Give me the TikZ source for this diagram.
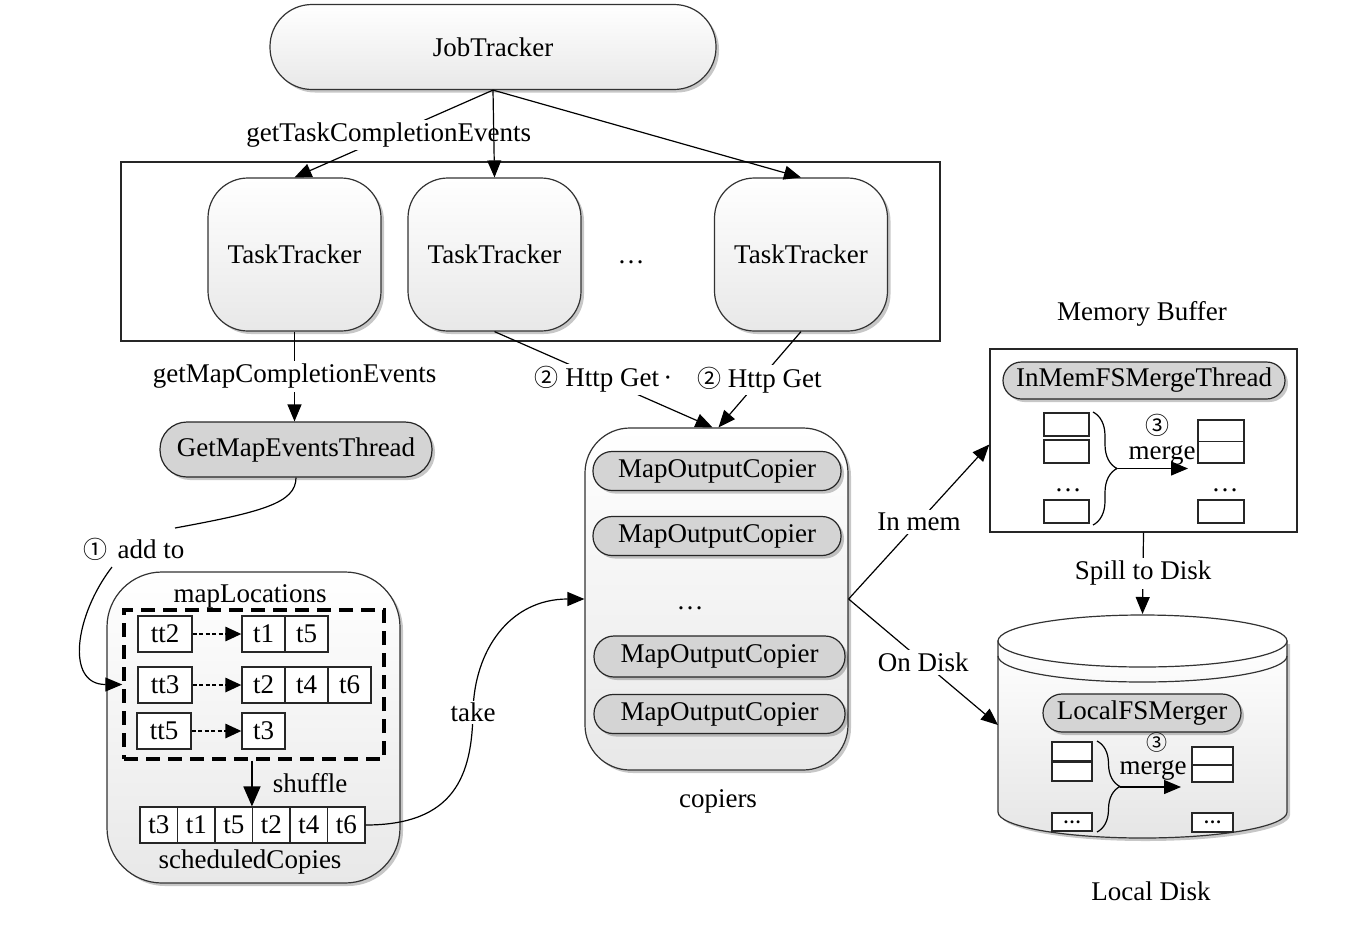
\documentclass[tikz,border=0pt]{standalone}
\usepackage{fontspec}
\setmainfont{Liberation Serif}
\newfontfamily\symfont{Noto Sans CJK SC}
\newcommand\cnum[1]{{\symfont\fontsize{24}{24}\selectfont #1}}
\newcommand\cnumsm[1]{{\symfont\fontsize{21}{21}\selectfont #1}}
\usetikzlibrary{arrows.meta,shadows,decorations.pathreplacing}
\begin{document}
\begin{tikzpicture}[x=1pt,y=-1pt,
  font=\fontsize{27}{31}\selectfont,
  line width=1.2pt,
  >={Triangle[length=17pt,width=14pt]},
  dshadow/.style={drop shadow={shadow xshift=3pt,shadow yshift=-3pt,opacity=0.22,fill=black}},
  softbox/.style={draw=black!80,top color=white,bottom color=black!9,inner sep=0pt,dshadow},
  pill/.style={draw=black!85,fill=black!17,inner sep=0pt,rounded corners=19pt,minimum width=248pt,minimum height=39pt,dshadow},
  cell/.style={draw=black!85,fill=white,inner sep=0pt,minimum height=36pt,line width=1.1pt},
  tcell/.style={cell,minimum width=43pt},
  ttcell/.style={cell,minimum width=54pt},
  scell/.style={cell,minimum width=37.5pt},
  mini/.style={draw=black!85,fill=white,inner sep=0pt,line width=1.1pt},
  lbl/.style={fill=white,inner sep=3pt},
  plain/.style={inner sep=0pt},
  dotarrow/.style={->,line width=2.6pt,dash pattern=on 4pt off 2.5pt,>={Triangle[length=16pt,width=14pt]}},
  bracestyle/.style={decorate,decoration={brace,amplitude=24pt,aspect=0.5}},
]
\useasboundingbox (0,0) rectangle (1351,940);

% ---------- JobTracker ----------
\node[softbox,rounded corners=42pt,minimum width=446pt,minimum height=85pt] (jt) at (493,47) {JobTracker};

% ---------- TaskTrackers ----------
\node[draw=black!85,fill=white,minimum width=819pt,minimum height=179pt,inner sep=0pt] (frame) at (530.5,251.5) {};
\node[softbox,rounded corners=40pt,minimum width=173pt,minimum height=153pt] (tt1) at (294.5,254.5) {TaskTracker};
\node[softbox,rounded corners=40pt,minimum width=173pt,minimum height=153pt] (tt2) at (494.5,254.5) {TaskTracker};
\node[plain] (ttdots) at (631,262) {…};
\node[softbox,rounded corners=40pt,minimum width=173pt,minimum height=153pt] (tt3) at (801,254.5) {TaskTracker};

\draw[->] (jt.south) -- (tt1.north) node[lbl,pos=0.49,xshift=-7pt,yshift=-2pt] {getTaskCompletionEvents};
\draw[->] (jt.south) -- (tt2.north);
\draw[->] (jt.south) -- (tt3.north);

% ---------- GetMapEventsThread ----------
\node[pill,rounded corners=27pt,minimum width=272pt,minimum height=55pt] (gme) at (296,449.5) {GetMapEventsThread};
\draw[->] (tt1.south) -- (tt1.south |- gme.north) node[lbl,pos=0.5] {getMapCompletionEvents};

% ---------- copiers ----------
\node[softbox,rounded corners=45pt,minimum width=263pt,minimum height=342pt] (cop) at (716.5,599) {};
\node[plain] (coplbl) at (718,801) {copiers};
\node[pill] (moc1) at (717,471) {MapOutputCopier};
\node[pill] (moc2) at (717,536) {MapOutputCopier};
\node[plain] (mocdots) at (690,608) {…};
\node[pill,minimum width=251pt,minimum height=41pt,rounded corners=20pt] (moc3) at (719.5,656.5) {MapOutputCopier};
\node[pill,minimum width=251pt] (moc4) at (719.5,714) {MapOutputCopier};

\draw[->] (tt2.south) -- ([xshift=-4pt]cop.north) node[lbl,pos=0.5,inner sep=2pt] {\cnum{②} Http Get\,·};
\draw[->] (tt3.south) -- ([xshift=2pt]cop.north) node[lbl,pos=0.505,inner sep=2pt] {\cnum{②} Http Get};

% ---------- Memory buffer ----------
\node[plain] (mblbl) at (1142,314) {Memory Buffer};
\node[draw=black!85,fill=white,minimum width=307pt,minimum height=183pt,inner sep=0pt,line width=1.4pt] (mb) at (1143.5,440.5) {};
\node[pill,minimum width=282pt,minimum height=37pt,rounded corners=18.5pt] (imt) at (1144,380.5) {InMemFSMergeThread};
\node[mini,minimum width=45pt,minimum height=23pt] (ma1) at (1066.5,424.5) {};
\node[mini,minimum width=45pt,minimum height=23pt] (ma2) at (1066.5,451.5) {};
\node[plain] (madots) at (1068,490) {…};
\node[mini,minimum width=45pt,minimum height=23pt] (ma3) at (1066.5,511.5) {};
\draw[bracestyle] (1093,412) -- (1093,525);
\node[mini,minimum width=46pt,minimum height=21.5pt] (mr1) at (1221,430.75) {};
\node[mini,minimum width=46pt,minimum height=21.5pt] (mr2) at (1221,452.25) {};
\node[plain] (mrdots) at (1225,490) {…};
\node[mini,minimum width=46pt,minimum height=23pt] (mr3) at (1221,511.5) {};
\coordinate (mbtip) at (1118,468.5);
\coordinate (mbend) at (1188,468.5);
\draw[->] (mbtip) -- (mbend);
\node[plain] (mc3) at (1157,425) {\cnum{③}};
\node[plain] (mmerge) at (1162,455) {merge};

% ---------- Local disk ----------
\coordinate (disktop) at (1142.5,614);
\coordinate (diskleft) at (998,725);
\path[dshadow,draw=black!80,top color=white,bottom color=black!10]
  (998,641) -- (998,812) arc[start angle=180,end angle=360,x radius=144.5pt,y radius=26pt] -- (1287,641) -- cycle;
\draw[draw=black!80,fill=white] (1142.5,641) ellipse[x radius=144.5pt,y radius=26pt];
\draw[draw=black!80] (998,656) arc[start angle=180,end angle=360,x radius=144.5pt,y radius=26pt];
\node[plain] (ldlbl) at (1151,891) {Local Disk};
\node[pill,minimum width=198pt,minimum height=38pt] (lfm) at (1142,713) {LocalFSMerger};
\node[mini,minimum width=40pt,minimum height=19pt] (dl1) at (1072,751.5) {};
\node[mini,minimum width=40pt,minimum height=19pt] (dl2) at (1072,771.5) {};
\node[mini,minimum width=40pt,minimum height=18pt,font=\fontsize{18}{18}\selectfont\bfseries] (dl3) at (1072,822) {…};
\draw[bracestyle,decoration={amplitude=23pt}] (1097,741) -- (1097,832);
\node[mini,minimum width=41pt,minimum height=18pt] (dr1) at (1212.5,756) {};
\node[mini,minimum width=41pt,minimum height=17pt] (dr2) at (1212.5,773.5) {};
\node[mini,minimum width=41pt,minimum height=19pt,font=\fontsize{18}{18}\selectfont\bfseries] (dr3) at (1212.5,822.5) {…};
\coordinate (dtip) at (1120,787);
\coordinate (dend) at (1181,787);
\draw[->] (dtip) -- (dend);
\node[plain] (dc3) at (1157,743) {\cnumsm{③}};
\node[plain] (dmerge) at (1153,770) {merge};

% ---------- copiers -> buffer / disk ----------
\draw[->] (cop.east) -- ([yshift=-4pt]mb.west) node[lbl,pos=0.5] {In mem};
\draw[->] (cop.east) -- (diskleft) node[lbl,pos=0.5] {On Disk};
\draw[->] (mb.south) -- (disktop) node[lbl,pos=0.5] {Spill to Disk};

% ---------- left container ----------
\node[softbox,rounded corners=55pt,minimum width=293pt,minimum height=311pt] (sc) at (253.5,727.5) {};
\node[draw=black,dash pattern=on 14pt off 8pt,line width=3.5pt,minimum width=260pt,minimum height=149pt,inner sep=0pt] (ml) at (254,684.5) {};
\node[plain] (mllbl) at (250,596) {mapLocations};
\node[ttcell] (k2) at (165,634) {tt2};
\node[tcell] (v11) at (263.5,634) {t1};
\node[tcell] (v12) at (306.5,634) {t5};
\node[ttcell] (k3) at (165,685) {tt3};
\node[tcell] (v21) at (263.5,685) {t2};
\node[tcell] (v22) at (306.5,685) {t4};
\node[tcell] (v23) at (349.5,685) {t6};
\node[ttcell] (k5) at (164,731) {tt5};
\node[tcell] (v31) at (263.5,731) {t3};
\draw[dotarrow] (k2.east) -- (v11.west);
\draw[dotarrow] (k3.east) -- (v21.west);
\draw[dotarrow] (k5.east) -- (v31.west);

\node[scell] (s1) at (158.75,825) {t3};
\node[scell] (s2) at (196.25,825) {t1};
\node[scell] (s3) at (233.75,825) {t5};
\node[scell] (s4) at (271.25,825) {t2};
\node[scell] (s5) at (308.75,825) {t4};
\node[scell] (s6) at (346.25,825) {t6};
\node[plain] (sclbl) at (250,862) {scheduledCopies};
\draw[->,line width=1.5pt,>={Triangle[length=20pt,width=17pt]}] (ml.south -| s4.west) -- (s4.north west);
\node[plain] (shuf) at (310,783) {shuffle};

% ---------- add to ----------
\node[plain] (addto) at (134,549) {\cnum{①}\hspace{10pt}add to};
\coordinate (addin) at (175,528);
\coordinate (addout) at (112,567);
\draw (gme.south) .. controls (296,503) and (262,512) .. (addin);
\draw[->] (addout) .. controls (75,615) and (65,684.5) .. (ml.west);

% ---------- take ----------
\draw[->] (s6.east) .. controls (455,825) and (472,775) .. (473,712)
  node[lbl,inner sep=2pt] {take}
  .. controls (474,650) and (510,599) .. (cop.west);
\end{tikzpicture}
\end{document}
